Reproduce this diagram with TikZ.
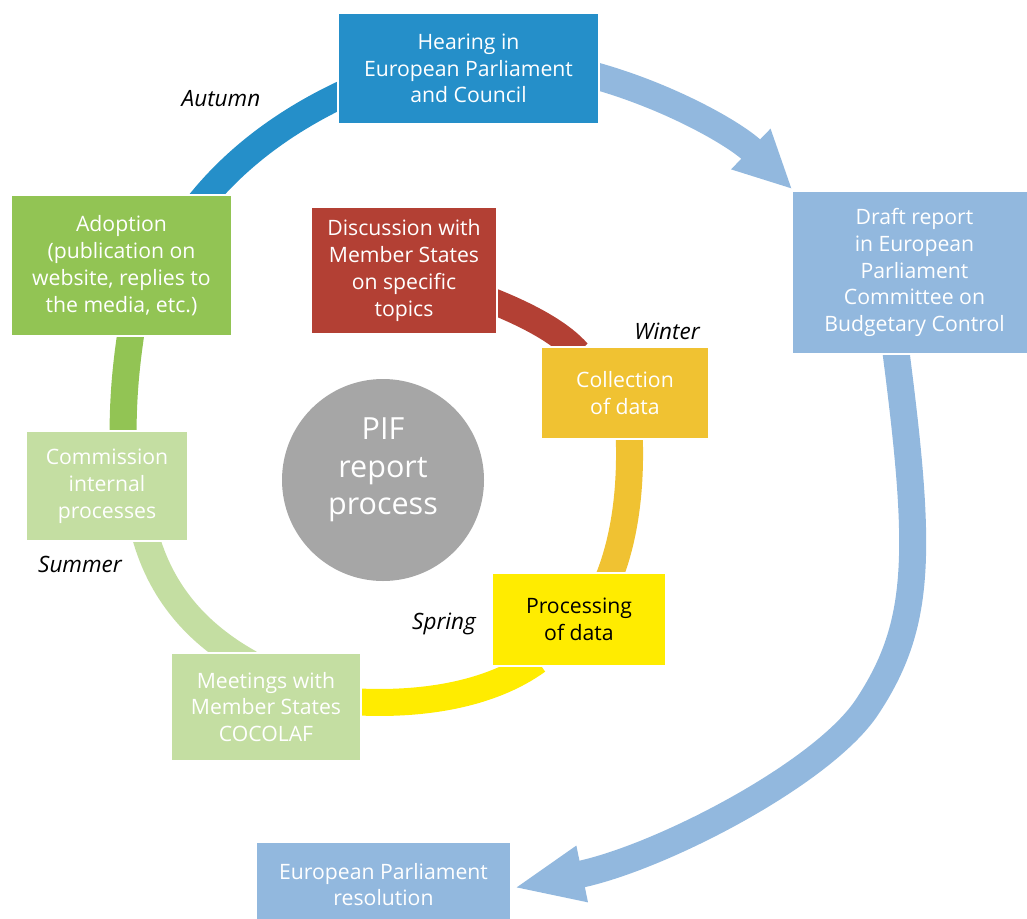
\documentclass[tikz,border=0pt]{standalone}
\usepackage{fontspec}
\setmainfont{Open Sans}
\usetikzlibrary{arrows.meta,calc}
\definecolor{hblue}{RGB}{37,143,201}
\definecolor{lblue}{RGB}{146,184,222}
\definecolor{cgreen}{RGB}{146,196,84}
\definecolor{lgreen}{RGB}{196,222,162}
\definecolor{cred}{RGB}{179,64,52}
\definecolor{cgold}{RGB}{240,194,50}
\definecolor{cyell}{RGB}{255,236,0}
\definecolor{cgray}{RGB}{166,166,166}
\newcommand{\pifboxfont}{\fontsize{21.2}{26.8}\selectfont}
\newcommand{\pifbigfont}{\fontsize{30.5}{37.5}\selectfont}
\newcommand{\pifseasonfont}{\fontsize{22.5}{26}\selectfont\itshape}
\pgfdeclarelayer{bg}
\pgfsetlayers{bg,main}
\begin{document}
\begin{tikzpicture}[x=1pt,y=-1pt,
  box/.style={draw=white, line width=1.2pt, inner sep=2pt, align=center,
    text=white, font=\pifboxfont},
  season/.style={inner sep=0pt, font=\pifseasonfont, text=black},
  ring/.style={line width=27pt},
  bigarrow/.style={line width=27pt, draw=lblue},
]
\useasboundingbox (0,0) rectangle (1027,918);

% boxes
\node[box, fill=hblue, minimum width=261pt, minimum height=111pt] (hear) at (468.5,68.5)
  {Hearing in\\European Parliament\\and Council};
\node[box, fill=lblue, minimum width=245pt, minimum height=163pt] (draft) at (914.5,272.5)
  {Draft report\\in European\\Parliament\\Committee on\\Budgetary Control};
\node[box, fill=cgreen, minimum width=221pt, minimum height=141pt] (adopt) at (121.5,265.5)
  {Adoption\\(publication on\\website, replies to\\the media, etc.)};
\node[box, fill=cred, minimum width=186pt, minimum height=127pt] (disc) at (404,270.5)
  {Discussion with\\Member States\\on specific\\topics};
\node[box, fill=cgold, minimum width=168pt, minimum height=92pt] (coll) at (625,393)
  {Collection\\of data};
\node[box, fill=lgreen, minimum width=162pt, minimum height=110pt] (comm) at (107,486)
  {Commission\\internal\\processes};
\node[box, fill=cyell, text=black, minimum width=174pt, minimum height=93pt] (proc) at (579,619.5)
  {Processing\\of data};
\node[box, fill=lgreen, minimum width=190pt, minimum height=108pt] (meet) at (266,707)
  {Meetings with\\Member States\\COCOLAF};
\node[box, fill=lblue, minimum width=255pt, minimum height=85pt] (res) at (383.5,884.5)
  {European Parliament\\resolution};
\node[circle, fill=cgray, minimum size=202pt, inner sep=0pt] (pif) at (383,480) {};
\node[align=center, inner sep=0pt, text=white, font=\pifbigfont] (piftext) at ($(pif.center)+(0,-10)$)
  {PIF\\report\\process};

% season labels
\node[season] (autumn) at (221,99) {Autumn};
\node[season] (winter) at (667,331) {Winter};
\node[season] (summer) at (80,564) {Summer};
\node[season] (spring) at (444,624) {Spring};

\begin{pgfonlayer}{bg}
% inner cycle arcs
\draw[ring, draw=hblue] ($(adopt.north)+(75.5,12)$) .. controls (235,158) and (287,119) .. ($(hear.west)+(14,21.5)$);
\draw[ring, draw=cgreen] ($(adopt.south)+(10.5,-11)$) .. controls (126,365) and (123,395) .. ($(comm.north)+(16,9)$);
\draw[ring, draw=lgreen] ($(comm.south)+(37,-11)$) .. controls (158,585) and (190,630) .. ($(meet.north)+(-16,11)$);
\draw[ring, draw=cyell] ($(proc.south)+(-41.6,-6)$) .. controls (490,695) and (420,706) .. ($(meet.east)+(-11,-5.5)$);
\draw[ring, draw=cgold] ($(coll.south)+(4,-9)$) .. controls (631.7,490) and (624.3,541) .. ($(proc.north)+(28,10)$);
\draw[line width=26pt, draw=cred] ($(disc.east)+(-9.3,28.9)$) .. controls (532.6,316.8) and (562.7,334.7) .. ($(coll.north)+(-47,6)$);
% big arrows
\draw[bigarrow, -{Triangle[width=52pt,length=58pt]}] ($(hear.east)+(-9,6)$) .. controls (667.3,95.2) and (735,133.7) .. ($(draft.north west)+(1,-1)$);
\draw[bigarrow, -{Triangle[width=52pt,length=70pt]}] ($(draft.south)+(-19.5,-10)$) .. controls (922,552) and (922,624) .. (867,707) .. controls (823,773.4) and (660,858) .. ($(res.east)+(2,3.5)$);
\end{pgfonlayer}
\end{tikzpicture}
\end{document}
